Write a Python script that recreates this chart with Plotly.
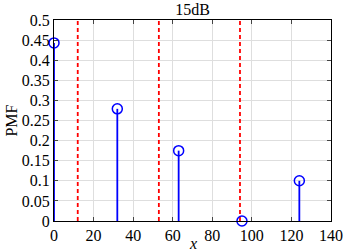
import plotly.graph_objects as go

levels = [0, 32, 63, 95, 124]
pmf = [0.443, 0.279, 0.175, 0.0, 0.1]
thresholds = [12, 53, 94]
title_text = "15dB"
x_label = "<i>x</i>"
y_label = "PMF"
x_ticks = [0, 20, 40, 60, 80, 100, 120, 140]
y_ticks = [0, 0.05, 0.1, 0.15, 0.2, 0.25, 0.3, 0.35, 0.4, 0.45, 0.5]
y_tick_text = ["0", "0.05", "0.1", "0.15", "0.2", "0.25", "0.3", "0.35", "0.4", "0.45", "0.5"]

stem_x, stem_y = [], []
for xv, yv in zip(levels, pmf):
    stem_x += [xv, xv, None]
    stem_y += [0, yv, None]

thr_x, thr_y = [], []
for t in thresholds:
    thr_x += [t, t, None]
    thr_y += [0, 0.5, None]

fig = go.Figure()
fig.add_trace(go.Scatter(x=thr_x, y=thr_y, mode="lines",
                         line=dict(color="#ff0000", width=1.8, dash="4px,3px"),
                         hoverinfo="skip", showlegend=False))
fig.add_trace(go.Scatter(x=stem_x, y=stem_y, mode="lines",
                         line=dict(color="#0000ff", width=1.8),
                         hoverinfo="skip", showlegend=False, cliponaxis=False))
fig.add_trace(go.Scatter(x=levels, y=pmf, mode="markers",
                         marker=dict(symbol="circle-open", size=10, color="#0000ff",
                                     line=dict(width=1.5, color="#0000ff")),
                         showlegend=False, cliponaxis=False))

font = "Liberation Serif, Times New Roman, serif"
fig.update_layout(
    width=357, height=252,
    margin=dict(l=54, r=26, t=20, b=31),
    paper_bgcolor="white", plot_bgcolor="white",
    font=dict(family=font, size=16, color="black"),
    title=dict(text=title_text, x=0.5, xref="paper", xanchor="center",
               y=0.962, yref="container", yanchor="middle", font=dict(family=font, size=16)),
)
fig.add_annotation(text=x_label, x=0.5, xref="paper", y=0, yref="paper",
                   xanchor="center", yanchor="top", yshift=-12, showarrow=False,
                   font=dict(family=font, size=16, color="black"))
fig.update_xaxes(range=[0, 140], tickvals=x_ticks, ticks="inside", ticklen=4,
                 showline=True, linecolor="black", linewidth=1, mirror="allticks",
                 showgrid=True, gridcolor="#dedede", zeroline=False, automargin=False,
                 tickfont=dict(size=16))
fig.update_yaxes(range=[0, 0.5], tickvals=y_ticks, ticktext=y_tick_text,
                 ticks="inside", ticklen=4,
                 showline=True, linecolor="black", linewidth=1, mirror="allticks",
                 showgrid=True, gridcolor="#dedede", zeroline=False, automargin=False,
                 title=dict(text=y_label, standoff=0, font=dict(size=16)),
                 tickfont=dict(size=16))

fig.write_html("out.html", config={"displayModeBar": False},
               post_script="document.body.style.margin='0';")
